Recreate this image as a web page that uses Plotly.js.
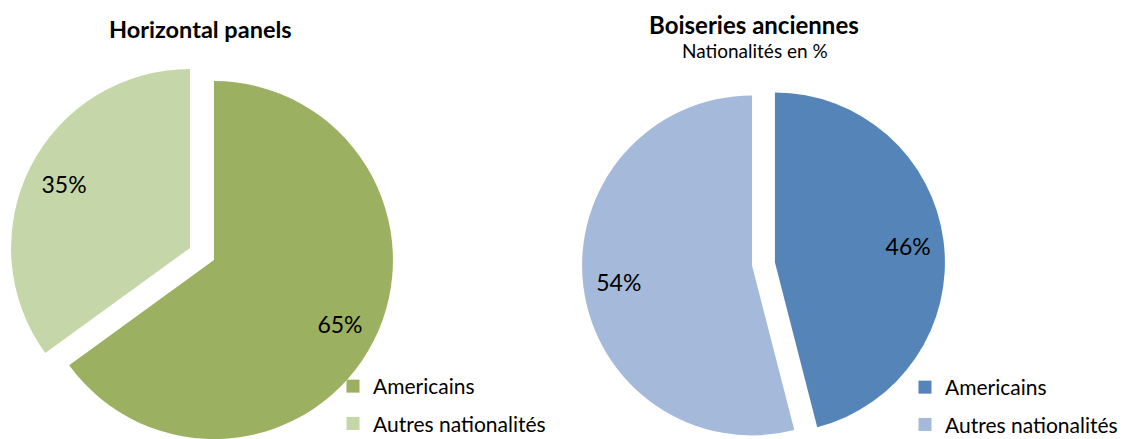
<!DOCTYPE html>
<html>
<head>
<meta charset="utf-8">
<script src="https://cdn.plot.ly/plotly-3.0.1.min.js"></script>
<style>
html, body { margin: 0; padding: 0; width: 1126px; height: 439px; overflow: hidden; background: #fff; }
#chart { width: 1126px; height: 447px; }
</style>
</head>
<body>
<div id="chart"></div>
<script>
// Data
const categories = ["Americains", "Autres nationalités"];
const panelsValues = [65, 35];
const boiseriesValues = [46, 54];
const panelsTitle = "Horizontal panels";
const boiseriesTitle = "Boiseries anciennes";
const boiseriesSubtitle = "Nationalités en %";

// Styles
const greenColors = ["#9BB060", "#C5D6A8"];
const blueColors = ["#5585B8", "#A5B9DA"];
const FONT = 'Lato, "Open Sans", sans-serif';
const W = 1126, H = 447;

const leftDomain = { x: [9.6 / W, 394.4 / W], y: [1 - 446.4 / H, 1 - 61.6 / H] };
const rightDomain = { x: [582 / W, 945 / W], y: [1 - 445.6 / H, 1 - 82.4 / H] };

function pieTraces(values, colors, domain, pull) {
  const common = {
    type: "pie",
    labels: categories,
    values: values,
    sort: false,
    direction: "clockwise",
    rotation: 0,
    pull: values.map(() => pull),
    domain: domain,
    showlegend: false
  };
  const fill = Object.assign({}, common, {
    marker: { colors: colors, line: { width: 0 } },
    textinfo: "none",
    hoverinfo: "label+percent"
  });
  const text = Object.assign({}, common, {
    hole: 0.58,
    marker: { colors: values.map(() => "rgba(0,0,0,0)"), line: { width: 0 } },
    textinfo: "percent",
    textposition: "inside",
    insidetextorientation: "horizontal",
    textfont: { family: FONT, size: 23, color: "#000" },
    hoverinfo: "skip"
  });
  return [fill, text];
}

// legend entries (one per category, no plotted points)
function legendTraces(colors, legendId) {
  return categories.map((c, i) => ({
    type: "scatter",
    mode: "markers",
    x: [null],
    y: [null],
    name: c,
    marker: { symbol: "square", size: 13, color: colors[i] },
    legend: legendId,
    legendgroup: legendId + "_" + i,
    showlegend: true,
    hoverinfo: "skip"
  }));
}

const data = [
  ...pieTraces(panelsValues, greenColors, leftDomain, 0.075),
  ...pieTraces(boiseriesValues, blueColors, rightDomain, 0.068),
  ...legendTraces(greenColors, "legend"),
  ...legendTraces(blueColors, "legend2")
];

const legendCommon = {
  bgcolor: "rgba(0,0,0,0)",
  font: { family: FONT, size: 21, color: "#000" },
  xanchor: "left",
  yanchor: "top",
  orientation: "v",
  traceorder: "grouped",
  tracegroupgap: 7
};

const layout = {
  width: W,
  height: H,
  margin: { l: 0, r: 0, t: 0, b: 0, autoexpand: false },
  paper_bgcolor: "#fff",
  plot_bgcolor: "rgba(0,0,0,0)",
  showlegend: true,
  font: { family: FONT, color: "#000" },
  xaxis: { visible: false },
  yaxis: { visible: false },
  legend: Object.assign({}, legendCommon, { x: 333 / W, y: 1 - 366 / H }),
  legend2: Object.assign({}, legendCommon, { x: 905 / W, y: 1 - 367 / H }),
  annotations: [
    { text: "<b>" + panelsTitle + "</b>", x: 200 / W, y: 1 - 29 / H, xref: "paper", yref: "paper",
      xanchor: "center", yanchor: "middle", showarrow: false, font: { family: FONT, size: 23.5, color: "#000" } },
    { text: "<b>" + boiseriesTitle + "</b>", x: 754 / W, y: 1 - 25 / H, xref: "paper", yref: "paper",
      xanchor: "center", yanchor: "middle", showarrow: false, font: { family: FONT, size: 24, color: "#000" } },
    { text: boiseriesSubtitle, x: 754.5 / W, y: 1 - 51 / H, xref: "paper", yref: "paper",
      xanchor: "center", yanchor: "middle", showarrow: false, font: { family: FONT, size: 19, color: "#000" } }
  ]
};

Plotly.newPlot("chart", data, layout, { displayModeBar: false });
</script>
</body>
</html>
